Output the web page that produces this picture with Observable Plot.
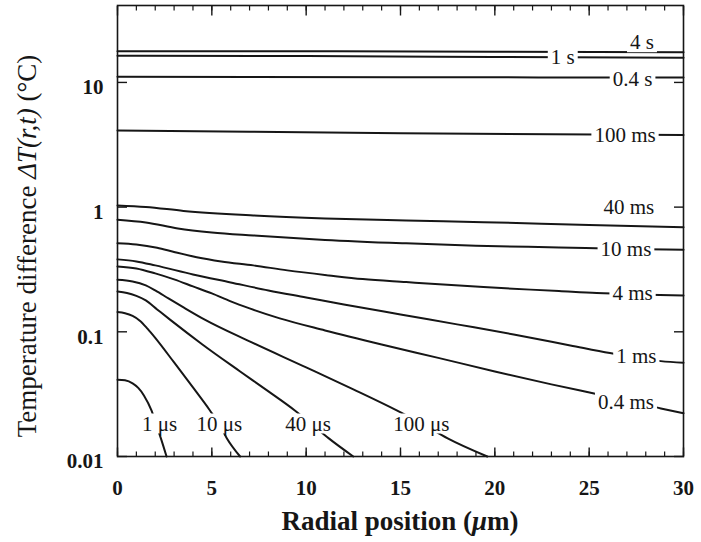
<!DOCTYPE html>
<html>
<head>
<meta charset="utf-8">
<script src="https://cdn.jsdelivr.net/npm/d3@7"></script>
<script src="https://cdn.jsdelivr.net/npm/@observablehq/plot@0.6"></script>
<style>
  html, body { margin: 0; padding: 0; background: #fff; }
  #chart svg { display: block; }
</style>
</head>
<body>
<div id="chart"></div>
<script>
// ---- data ----
const r4s = [0, 10, 20, 30];
const v4s = [17.8, 17.8, 17.6, 17.5];
const r1s = [0, 10, 20, 30];
const v1s = [16.4, 16.3, 16.0, 15.8];
const r04s = [0, 15, 30];
const v04s = [11.1, 11.0, 10.96];
const r100ms = [0, 7, 15, 30];
const v100ms = [4.12, 4.02, 3.92, 3.78];
const r40ms = [0, 1.5, 3.5, 7.2, 11, 15.3, 19.4, 25, 30];
const v40ms = [1.032, 1.004, 0.932, 0.858, 0.812, 0.782, 0.758, 0.720, 0.691];
const r10ms = [0, 1.5, 3.2, 5, 7.2, 11, 15.3, 19, 23.4, 27, 30];
const v10ms = [0.793, 0.754, 0.675, 0.627, 0.593, 0.546, 0.512, 0.490, 0.475, 0.462, 0.455];
const r4ms = [0, 1, 2.1, 3, 4.2, 5.5, 7.2, 9, 11.2, 13, 15.3, 19.4, 23.4, 25.4, 27.5, 30];
const v4ms = [0.514, 0.502, 0.4725, 0.437, 0.397, 0.367, 0.341, 0.311, 0.2834, 0.2646, 0.2504, 0.2283, 0.2121, 0.2043, 0.1995, 0.1958];
const r1ms = [0, 1, 2, 4, 6, 8, 10, 12, 15, 18, 21, 24, 26.1, 27.5, 28.8, 30];
const v1ms = [0.381, 0.367, 0.341, 0.2886, 0.249, 0.2148, 0.1888, 0.1658, 0.1378, 0.1147, 0.0953, 0.0778, 0.0675, 0.0623, 0.0582, 0.0565];
const r04ms = [0, 1, 2, 3, 4, 5, 6, 7, 8.6, 11, 14, 17, 20, 23, 25.2, 27, 28.8, 30];
const v04ms = [0.3345, 0.3224, 0.294, 0.2631, 0.2312, 0.2032, 0.1753, 0.1540, 0.1281, 0.1026, 0.0792, 0.0618, 0.0481, 0.0379, 0.0322, 0.0282, 0.0243, 0.0222];
const r100us = [0, 0.8, 1.5, 2, 2.7, 3.5, 4.6, 7, 10, 12.5, 14.8, 16.2, 17.5, 19.6];
const v100us = [0.2617, 0.2536, 0.2355, 0.2148, 0.1853, 0.1569, 0.1258, 0.0838, 0.0518, 0.0345, 0.0234, 0.0181, 0.01397, 0.0100];
const r40us = [0, 0.5, 1, 1.5, 2.1, 2.8, 4.5, 6.5, 8, 9.4, 10.3, 11.2, 12.5];
const v40us = [0.2109, 0.2051, 0.1941, 0.1786, 0.1512, 0.1246, 0.0792, 0.0481, 0.0333, 0.0234, 0.0181, 0.01397, 0.0100];
const r10us = [0, 0.4, 0.8, 1.2, 1.6, 2, 3, 4, 4.9, 5.4, 5.8, 6.5];
const v10us = [0.1439, 0.1410, 0.1341, 0.1223, 0.1055, 0.0894, 0.0568, 0.0358, 0.0234, 0.0181, 0.01397, 0.0100];
const r1us = [0, 0.4, 0.8, 1.1, 1.4, 1.8, 2.05, 2.3, 2.6];
const v1us = [0.0413, 0.0408, 0.0386, 0.0355, 0.0309, 0.0234, 0.0181, 0.01397, 0.0100];

const seriesNames = ["4 s", "1 s", "0.4 s", "100 ms", "40 ms", "10 ms", "4 ms", "1 ms", "0.4 ms", "100 μs", "40 μs", "10 μs", "1 μs"];
const seriesR = [r4s, r1s, r04s, r100ms, r40ms, r10ms, r4ms, r1ms, r04ms, r100us, r40us, r10us, r1us];
const seriesV = [v4s, v1s, v04s, v100ms, v40ms, v10ms, v4ms, v1ms, v04ms, v100us, v40us, v10us, v1us];

const labelText = ["4 s", "1 s", "0.4 s", "100 ms", "40 ms", "10 ms", "4 ms", "1 ms", "0.4 ms", "1 μs", "10 μs", "40 μs", "100 μs"];
const labelR = [27.8, 23.6, 27.3, 26.9, 27.1, 26.95, 27.3, 27.5, 26.95, 2.23, 5.4, 10.1, 16.1];
const labelV = [20.9, 15.9, 10.6, 3.76, 1.0, 0.455, 0.202, 0.0635, 0.0273, 0.0183, 0.0183, 0.0183, 0.0183];

const xMajor = [0, 5, 10, 15, 20, 25, 30];
const xMinor = d3.range(0, 31, 1);
const yTicks = [0.01, 0.1, 1, 10];
const yTickLabels = ["0.01", "0.1", "1", "10"];

// ---- build table ----
const rows = [];
seriesNames.forEach((name, i) => {
  seriesR[i].forEach((r, j) => rows.push({series: name, r, v: seriesV[i][j]}));
});
const labels = labelText.map((t, i) => ({text: t, r: labelR[i], v: labelV[i]}));

const FONT = "'Liberation Serif', 'Times New Roman', serif";
const ink = "#161616";

const chart = Plot.plot({
  width: 701,
  height: 542,
  marginLeft: 117,
  marginRight: 18,
  marginTop: 5,
  marginBottom: 86,
  style: {fontFamily: FONT, background: "#fff", color: ink},
  x: {domain: [0, 30]},
  y: {type: "log", domain: [0.01, 41.4]},
  marks: [
    Plot.line(rows, {x: "r", y: "v", z: "series", stroke: ink, strokeWidth: 2, curve: "monotone-x"}),
    Plot.text(labels, {x: "r", y: "v", text: "text", fill: ink, fontSize: 21, fontFamily: FONT}),
    Plot.frame({stroke: ink, strokeWidth: 1.6}),
    Plot.axisX(xMinor, {anchor: "bottom", tickSize: -4.5, tickFormat: () => "", label: null, stroke: ink, strokeWidth: 1.2}),
    Plot.axisX(xMajor, {anchor: "bottom", tickSize: -8.5, tickFormat: () => "", label: null, stroke: ink, strokeWidth: 1.4}),
    Plot.axisX(xMinor, {anchor: "top", tickSize: -4.5, tickFormat: () => "", label: null, stroke: ink, strokeWidth: 1.2}),
    Plot.axisX(xMajor, {anchor: "top", tickSize: -9.5, tickFormat: () => "", label: null, stroke: ink, strokeWidth: 1.4}),
    Plot.axisY(yTicks, {anchor: "left", tickSize: -10, tickFormat: () => "", label: null, stroke: ink, strokeWidth: 1.4}),
    Plot.axisY(yTicks, {anchor: "right", tickSize: -10, tickFormat: () => "", label: null, stroke: ink, strokeWidth: 1.4}),
    Plot.axisX(xMajor, {anchor: "bottom", tickSize: 0, tickPadding: 24, tickFormat: d => String(d), label: null, fontSize: 21, fontWeight: "bold", fontFamily: FONT, fill: ink}),
    Plot.axisY(yTicks, {anchor: "left", tickSize: 0, tickPadding: 14, dy: 5, tickFormat: d => yTickLabels[yTicks.indexOf(d)], label: null, fontSize: 21, fontWeight: "bold", fontFamily: FONT, fill: ink})
  ]
});

document.getElementById("chart").appendChild(chart);
const svg = d3.select(chart);

// white boxes behind the curve labels so the curves break around them
const labelSet = new Set(labelText);
svg.selectAll("text").each(function () {
  if (!labelSet.has(this.textContent)) return;
  if (this.closest('g[aria-label$="axis tick label"]')) return;
  const b = this.getBBox();
  const rect = document.createElementNS("http://www.w3.org/2000/svg", "rect");
  rect.setAttribute("x", b.x - 3);
  rect.setAttribute("y", b.y + 2);
  rect.setAttribute("width", b.width + 6);
  rect.setAttribute("height", b.height - 4);
  rect.setAttribute("fill", "white");
  const tr = this.getAttribute("transform");
  if (tr) rect.setAttribute("transform", tr);
  this.parentNode.insertBefore(rect, this);
});

// x axis title
const xt = svg.append("text")
  .attr("x", 400).attr("y", 530)
  .attr("text-anchor", "middle")
  .attr("font-family", FONT).attr("font-size", 27).attr("font-weight", "bold").attr("fill", ink);
xt.append("tspan").text("Radial position (");
xt.append("tspan").attr("font-style", "italic").text("μ");
xt.append("tspan").text("m)");
// y axis title
const yt = svg.append("text")
  .attr("transform", "translate(36,246) rotate(-90)")
  .attr("text-anchor", "middle")
  .attr("font-family", FONT).attr("font-size", 27).attr("fill", ink);
yt.append("tspan").text("Temperature difference ");
yt.append("tspan").attr("font-style", "italic").text("ΔT(r,t)");
yt.append("tspan").text(" (°C)");
</script>
</body>
</html>
